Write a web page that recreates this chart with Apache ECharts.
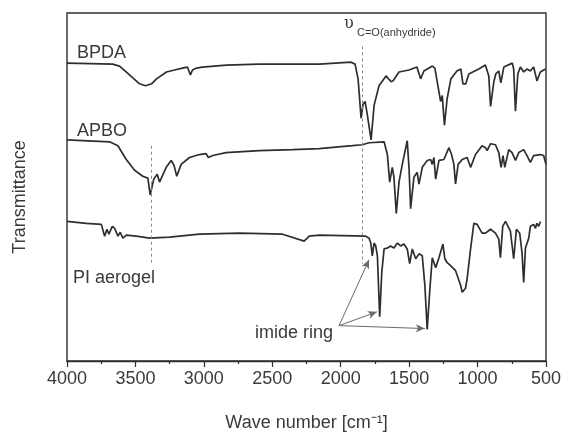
<!DOCTYPE html>
<html>
<head>
<meta charset="utf-8">
<script src="https://cdn.jsdelivr.net/npm/echarts@6/dist/echarts.min.js"></script>
<style>
html,body{margin:0;padding:0;background:#fff;}
#chart{width:564px;height:437px;}
</style>
</head>
<body>
<div id="chart"></div>
<script>
// Wavenumber axis
var xMin = 500, xMax = 4000, xStep = 500;
var xTitle = 'Wave number [cm\u207B\u00B9]';
var yTitle = 'Transmittance';
var seriesNames = ['BPDA', 'APBO', 'PI aerogel'];

// BPDA trace (offset transmittance, a.u.)
var bpdaWave = [4000,3667,3616,3543,3470,3426,3382,3346,3273,3215,3156,3120,3098,3083,3054,3011,2836,2595,2157,1924,1895,1873,1851,1837,1822,1807,1778,1756,1720,1669,1632,1617,1574,1501,1443,1416,1392,1330,1312,1270,1258,1242,1222,1195,1151,1122,1107,1086,1064,991,943,918,905,881,867,845,830,808,746,736,723,706,687,663,639,614,590,566,541,504];
var bpdaT    = [303,302,300,291,282,280,282,287,294,296,298,299,291,296,298,299,301,302,302,304,302,287,247,261,264,252,225,260,280,290,284,285,294,296,299,287,295,300,298,264,270,240,267,287,295,297,282,282,292,297,301,290,259,284,292,295,283,299,303,297,254,292,299,294,297,295,299,285,294,297];

// APBO trace
var apboWave = [4000,3689,3628,3567,3506,3446,3409,3392,3366,3341,3324,3275,3239,3218,3198,3166,3105,3032,2984,2967,2935,2838,2595,2352,2157,1915,1842,1793,1683,1659,1642,1623,1611,1594,1574,1550,1514,1501,1489,1465,1441,1428,1404,1368,1343,1331,1319,1306,1282,1246,1209,1190,1173,1161,1142,1112,1076,1051,1044,1015,967,942,930,905,869,845,828,814,801,772,748,723,699,663,639,614,590,541,517,500];
var apboT    = [225,223,219,205,194,188,186,169,185,190,182,197,204,199,188,200,207,210,211,207,209,212,214,215,216,219,220,222,223,210,182,197,187,150,182,200,224,197,155,187,192,180,197,204,205,200,207,185,204,205,217,210,200,180,200,205,207,197,195,210,219,217,214,221,220,212,197,209,197,215,212,204,212,215,209,202,209,210,209,200];

// PI aerogel trace
var piWave = [4000,3859,3749,3725,3708,3694,3669,3652,3628,3611,3592,3567,3494,3397,3251,3032,2741,2425,2267,2230,2157,1817,1793,1780,1769,1756,1744,1732,1715,1700,1683,1659,1635,1611,1586,1562,1538,1514,1496,1477,1452,1428,1404,1385,1368,1348,1331,1319,1306,1282,1253,1239,1222,1197,1161,1124,1112,1088,1076,1051,1027,1003,967,942,905,869,845,833,816,796,760,736,716,692,675,663,650,626,614,590,577,566,553,541];
var piT    = [142,140,139,127,134,129,137,135,127,131,125,128,127,125,126,129,130,129,122,127,128,127,125,120,107,120,117,107,45,90,114,115,117,115,120,117,119,114,99,114,104,109,107,77,32,74,105,107,95,105,119,104,100,97,92,77,70,74,84,114,140,139,130,130,134,130,124,105,137,142,132,104,134,130,110,80,115,125,137,139,135,140,137,142];

// Annotation anchors (wavenumber, transmittance a.u.)
var anhydrideWave = 1846;
var anhydrideRange = [320, 99];
var apboRefWave = 3385;
var apboRefRange = [219, 99];
var imideFrom = [2012, 36];
var imideTargets = [[1793, 103], [1735, 50], [1385, 33]];

function pairs(w, t) { return w.map(function (v, i) { return [v, t[i]]; }); }

var FONT = '"Liberation Sans", Arial, Helvetica, sans-serif';
var TXT = '#3a3a3a';
var LINE = '#2e2e2e';

var dashStyle = { color: '#8a8a8a', width: 1, type: [3, 3] };
var arrowStyle = { color: '#6a6a6a', width: 1, type: 'solid' };

var markData = [
  [{ coord: [anhydrideWave, anhydrideRange[0]], symbol: 'none', lineStyle: dashStyle },
   { coord: [anhydrideWave, anhydrideRange[1]], symbol: 'none' }],
  [{ coord: [apboRefWave, apboRefRange[0]], symbol: 'none', lineStyle: dashStyle },
   { coord: [apboRefWave, apboRefRange[1]], symbol: 'none' }]
];
imideTargets.forEach(function (tg) {
  markData.push([
    { coord: imideFrom, symbol: 'none', lineStyle: arrowStyle },
    { coord: tg, symbol: 'arrow', symbolSize: [6, 9] }
  ]);
});

var chart = echarts.init(document.getElementById('chart'), null, { renderer: 'canvas' });
var lineSeries = function (name, w, t) {
  return {
    name: name, type: 'line', data: pairs(w, t), showSymbol: false,
    lineStyle: { color: LINE, width: 1.7 }, itemStyle: { color: LINE },
    silent: true, animation: false, z: 3
  };
};
var s3 = lineSeries(seriesNames[2], piWave, piT);
s3.markLine = {
  silent: true, animation: false, symbol: ['none', 'none'],
  label: { show: false }, emphasis: { disabled: true },
  data: markData
};

chart.setOption({
  animation: false,
  backgroundColor: '#ffffff',
  grid: { left: 67, right: 16.5, top: 13, bottom: 70, show: true, borderColor: LINE, borderWidth: 1.4, backgroundColor: 'transparent' },
  xAxis: {
    type: 'value', inverse: true, min: xMin, max: xMax, interval: xStep,
    name: xTitle, nameLocation: 'middle', nameGap: 53,
    nameTextStyle: { fontFamily: FONT, fontSize: 18, color: TXT },
    axisLine: { show: true, lineStyle: { color: LINE, width: 1.4 } },
    axisTick: { show: true, length: 6, lineStyle: { color: LINE, width: 1.2 } },
    minorTick: { show: true, splitNumber: 2, length: 3, lineStyle: { color: LINE, width: 1.2 } },
    axisLabel: { fontFamily: FONT, fontSize: 18, color: TXT, margin: 9, formatter: function (v) { return String(v); } },
    splitLine: { show: false }
  },
  yAxis: {
    type: 'value', min: 0, max: 354,
    axisLine: { show: false }, axisTick: { show: false }, axisLabel: { show: false },
    splitLine: { show: false }
  },
  series: [
    lineSeries(seriesNames[0], bpdaWave, bpdaT),
    lineSeries(seriesNames[1], apboWave, apboT),
    s3
  ],
  graphic: [
    { type: 'text', x: 20, y: 197, rotation: Math.PI / 2, style: { text: yTitle, font: '18px ' + FONT, fill: TXT, align: 'center', verticalAlign: 'middle' } },
    { type: 'text', left: 77, top: 44, style: { text: seriesNames[0], font: '18px ' + FONT, fill: TXT } },
    { type: 'text', left: 77, top: 122, style: { text: seriesNames[1], font: '18px ' + FONT, fill: TXT } },
    { type: 'text', left: 73, top: 269, style: { text: seriesNames[2], font: '18px ' + FONT, fill: TXT } },
    { type: 'text', left: 255, top: 324, style: { text: 'imide ring', font: '18px ' + FONT, fill: TXT } },
    { type: 'text', left: 344, top: 16, style: { text: '\u03C5', font: '16px "DejaVu Serif", serif', fill: TXT } },
    { type: 'text', left: 357, top: 27, style: { text: 'C=O(anhydride)', font: '11px ' + FONT, fill: TXT } }
  ]
});
</script>
</body>
</html>
